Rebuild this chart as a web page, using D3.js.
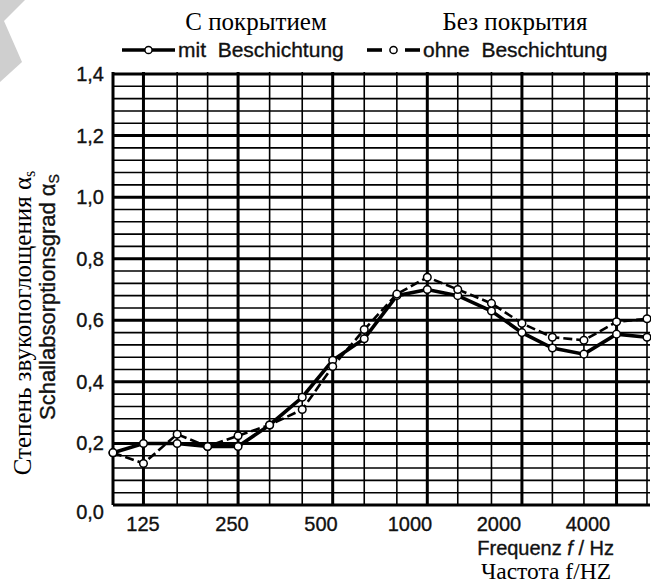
<!DOCTYPE html>
<html><head><meta charset="utf-8">
<script src="https://cdn.jsdelivr.net/npm/d3@7"></script>
<style>body{margin:0;background:#fff}svg{display:block}</style>
</head><body>
<svg id="c" width="651" height="583"></svg>
<script>
const freqs = [100,125,160,200,250,315,400,500,630,800,1000,1250,1600,2000,2500,3150,4000,5000];
const mitValues  = [0.17,0.20,0.20,0.19,0.19,0.26,0.35,0.47,0.54,0.68,0.70,0.68,0.63,0.56,0.51,0.49,0.555,0.545];
const ohneValues = [0.17,0.135,0.23,0.19,0.225,0.26,0.31,0.45,0.57,0.685,0.74,0.70,0.655,0.59,0.545,0.535,0.595,0.605];
const xTickLabels = [125,250,500,1000,2000,4000];
const yTickValues = [0,0.2,0.4,0.6,0.8,1.0,1.2,1.4];
const seriesNames = ["mit\u00a0\u00a0Beschichtung","ohne\u00a0\u00a0Beschichtung"];
const seriesRu = ["С покрытием","Без покрытия"];

const svg = d3.select("#c");
const sans = "'Liberation Sans', Arial, sans-serif";
const serif = "'Liberation Serif', 'Times New Roman', serif";

// watermark shape
svg.append("polygon").attr("points","0,0 25,0 4,21 22,62 0,82").attr("fill","#cfcfcf");

const x = d3.scaleLog().domain([100,5000]).range([113,647]);
const y = d3.scaleLinear().domain([0,1.4]).range([505,74]);
const xl = d3.scaleLog().domain([125,4000]).range([143,588]);

const g = svg.append("g");
const hvals = d3.range(0,36).map(i=>+(i*0.04).toFixed(2));
g.selectAll("line.h").data(hvals).join("line")
  .attr("x1",x(100)).attr("x2",x(5000)+3)
  .attr("y1",d=>y(d)).attr("y2",d=>y(d))
  .attr("stroke","#000")
  .attr("stroke-width",d=>Math.abs(d/0.2-Math.round(d/0.2))<1e-6?3:1.6);
g.selectAll("line.v").data(freqs).join("line")
  .attr("x1",d=>x(d)).attr("x2",d=>x(d))
  .attr("y1",y(1.4)-2).attr("y2",y(0))
  .attr("stroke","#000")
  .attr("stroke-width",d=>(xTickLabels.includes(d)||d===100)?3:1.6);

const line = d3.line().x((d,i)=>x(freqs[i])).y(d=>y(d));
svg.append("path").datum(ohneValues).attr("d",line).attr("fill","none")
  .attr("stroke","#000").attr("stroke-width",2.6).attr("stroke-dasharray","9,4");
svg.append("path").datum(mitValues).attr("d",line).attr("fill","none")
  .attr("stroke","#000").attr("stroke-width",3.6);
[mitValues,ohneValues].forEach(vals=>{
  svg.append("g").selectAll("circle").data(vals).join("circle")
    .attr("cx",(d,i)=>x(freqs[i])).attr("cy",d=>y(d)).attr("r",3.8)
    .attr("fill","#fff").attr("stroke","#000").attr("stroke-width",1.5);
});

const heavy = sel => sel.attr("stroke","#111").attr("stroke-width",0.35);

// y tick labels
heavy(svg.append("g").selectAll("text").data(yTickValues).join("text")
  .attr("x",104).attr("y",d=>y(d)+(d===0?14:7))
  .attr("text-anchor","end").attr("font-family",sans).attr("font-size",20)
  .attr("fill","#111")
  .text(d=>d3.format(".1f")(d).replace(".",",")));
// x tick labels
heavy(svg.append("g").selectAll("text").data(xTickLabels).join("text")
  .attr("x",d=>xl(d)).attr("y",531)
  .attr("text-anchor","middle").attr("font-family",sans).attr("font-size",20)
  .attr("fill","#111").text(d=>d));

// x axis titles
const fx = heavy(svg.append("text").attr("x",614).attr("y",555).attr("text-anchor","end")
  .attr("font-family",sans).attr("font-size",20).attr("fill","#111"));
fx.append("tspan").text("Frequenz ");
fx.append("tspan").attr("font-style","italic").text("f");
fx.append("tspan").text(" / Hz");
svg.append("text").attr("x",611).attr("y",579).attr("text-anchor","end")
  .attr("font-family",serif).attr("font-size",23.5).attr("fill","#000").text("Частота f/HZ");

// y axis titles
const t1 = svg.append("text").attr("transform","translate(31,323) rotate(-90)")
  .attr("text-anchor","middle").attr("font-family",serif).attr("font-size",25).attr("fill","#000");
t1.append("tspan").text("Степень звукопоглощения α");
t1.append("tspan").attr("font-size",16).attr("dy",4).text("s");
const t2 = heavy(svg.append("text").attr("transform","translate(55,297) rotate(-90)")
  .attr("text-anchor","middle").attr("font-family",sans).attr("font-size",22).attr("fill","#111"));
t2.append("tspan").text("Schallabsorptionsgrad α");
t2.append("tspan").attr("font-size",14).attr("dy",4).text("S");

// legend
const legX = [122,367];
const leg = svg.append("g");
seriesNames.forEach((name,i)=>{
  const lx = legX[i];
  if(i===0){
    leg.append("line").attr("x1",lx).attr("x2",lx+53).attr("y1",50).attr("y2",50)
      .attr("stroke","#000").attr("stroke-width",3.6);
  } else {
    [[0,15],[38,53]].forEach(s=>leg.append("line").attr("x1",lx+s[0]).attr("x2",lx+s[1])
      .attr("y1",50).attr("y2",50).attr("stroke","#000").attr("stroke-width",3.6));
  }
  leg.append("circle").attr("cx",lx+26.5).attr("cy",50).attr("r",3.6)
    .attr("fill","#fff").attr("stroke","#000").attr("stroke-width",1.5);
  heavy(leg.append("text").attr("x",lx+56).attr("y",57).attr("font-family",sans)
    .attr("font-size",21).attr("fill","#111").text(name));
  leg.append("text").attr("x",[256,515][i]).attr("y",30).attr("text-anchor","middle")
    .attr("font-family",serif).attr("font-size",25).attr("fill","#000").text(seriesRu[i]);
});
</script>
</body></html>
